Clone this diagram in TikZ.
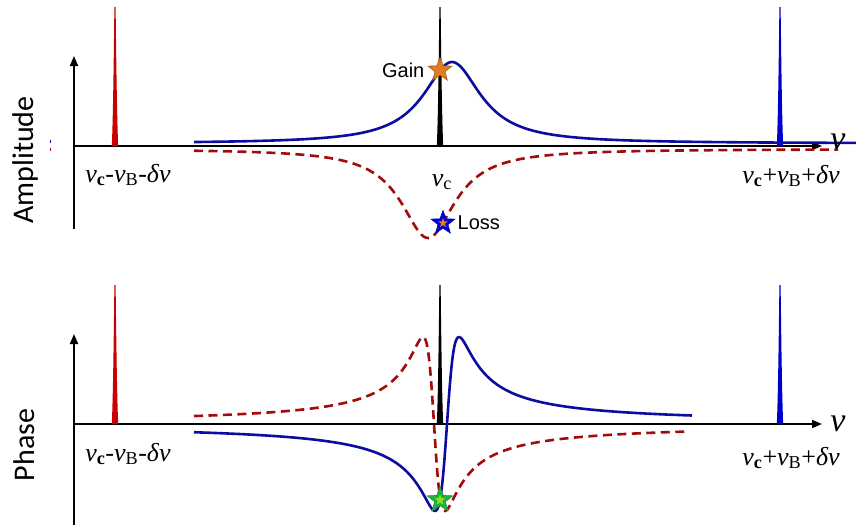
\documentclass[tikz,border=0pt]{standalone}
\usepackage{fontspec}
\setmainfont{Liberation Serif}
\newfontfamily\labelfont{Liberation Sans}
\newfontfamily\axisfont{Carlito}
\usetikzlibrary{shapes.geometric, arrows.meta, positioning, calc}
\definecolor{curveblue}{RGB}{12,12,160}
\definecolor{curvered}{RGB}{165,10,10}
\definecolor{peakred}{RGB}{200,0,0}
\definecolor{peakblue}{RGB}{0,0,205}
\definecolor{starorange}{RGB}{225,125,30}
\definecolor{stargreen}{RGB}{35,175,65}

\begin{document}
\begin{tikzpicture}[
      x=1pt, y=-1pt,
      axis/.style = {line width=1.8pt, -{Triangle[length=10pt, width=8pt]}},
      gaincurve/.style = {curveblue, line width=2.6pt},
      losscurve/.style = {curvered, line width=2.6pt, dash pattern=on 9pt off 5.5pt},
      freqlbl/.style = {font=\fontsize{26}{26}\selectfont, inner sep=0pt},
      nulbl/.style = {font=\fontsize{34}{34}\selectfont, inner sep=0pt},
      sidelbl/.style = {font=\axisfont\fontsize{30}{30}\selectfont, rotate=90, inner sep=0pt},
      txtlbl/.style = {font=\labelfont\fontsize{20}{20}\selectfont, inner sep=0pt},
      mark star/.style = {star, star points=5, star point ratio=2.4,
                          minimum size=#1, inner sep=0pt},
    ]
    \useasboundingbox (0,0) rectangle (856,525);

    % axes
    \coordinate (ampO) at (74,146);
    \coordinate (phsO) at (74,424);
    \draw[axis] (74,229) -- (74,56);
    \draw[axis] (ampO) -- (822,146);
    \draw[axis] (74,525) -- (74,334);
    \draw[axis] (phsO) -- (822,424);

    % carrier and sidebands
    \foreach \base/\ptop in {146/7, 424/285}
      \foreach \px/\pc in {115/peakred, 440/black, 780/peakblue}
        \fill[\pc] (\px-3.2,\base) .. controls (\px-1.8,\base-30) and (\px-1,\ptop+30)
          .. (\px-0.6,\ptop) -- (\px+0.6,\ptop) .. controls (\px+1,\ptop+30) and (\px+1.8,\base-30)
          .. (\px+3.2,\base) -- cycle;

    % amplitude: gain and loss
    \draw[gaincurve] plot[domain=194:856, samples=400, smooth]
      (\x, {143.5-81.5/(1+((\x-452)/35)^2)});
    \draw[losscurve] plot[domain=194:838, samples=400, smooth]
      (\x, {149+89/(1+((\x-428)/33)^2)});

    % phase
    \draw[gaincurve] plot[domain=194:692, samples=500, smooth]
      (\x, {424-174*((\x-447)/12)/(1+((\x-447)/12)^2)});
    \draw[losscurve] plot[domain=194:689, samples=500, smooth]
      (\x, {424+174*((\x-434)/11)/(1+((\x-434)/11)^2)});

    % stars
    \node[mark star=25pt, fill=starorange, draw=starorange!70!black, line width=0.6pt]
      (gainstar) at (440,70) {};
    \node[mark star=25pt, fill=blue!85!black, draw=blue!70!black, line width=0.6pt]
      (lossstar) at (443,223) {};
    \node[mark star=10pt, fill=starorange] at (lossstar) {};
    \node[mark star=27pt, fill=stargreen, draw=stargreen!85!black, line width=0.6pt]
      (phstar) at (440,500) {};
    \node[mark star=11pt, fill=green!45!yellow!80!gray] at (phstar) {};
    \node[txtlbl, left=8pt of gainstar] (gain) {Gain};
    \node[txtlbl, right=7pt of lossstar] (loss) {Loss};

    % labels
    \node[sidelbl] (amp) at (26,160) {Amplitude};
    \node[sidelbl] (phs) at (24,445) {Phase};
    \node[nulbl] (nuA) at (838,142) {\textit{ν}};
    \node[nulbl] (nuP) at (838,424) {\textit{ν}};
    \node[freqlbl] (lowA) at (128,175)
      {\textit{ν}\textsubscript{\textbf{c}}-\textit{ν}\textsubscript{B}-\textit{δν}};
    \node[freqlbl] (highA) at (791,176)
      {\textit{ν}\textsubscript{\textbf{c}}+\textit{ν}\textsubscript{B}+\textit{δν}};
    \node[freqlbl] (cA) at (442,182) {\textit{ν}\textsubscript{c}};
    \node[freqlbl] (lowP) at (128,454)
      {\textit{ν}\textsubscript{\textbf{c}}-\textit{ν}\textsubscript{B}-\textit{δν}};
    \node[freqlbl] (highP) at (791,458)
      {\textit{ν}\textsubscript{\textbf{c}}+\textit{ν}\textsubscript{B}+\textit{δν}};

    % small legend marks
    \draw[curveblue, line width=1pt] (50,139.5) -- (50,142.5);
    \draw[curvered, line width=1pt] (50,147.5) -- (50,150.5);
\end{tikzpicture}
\end{document}
